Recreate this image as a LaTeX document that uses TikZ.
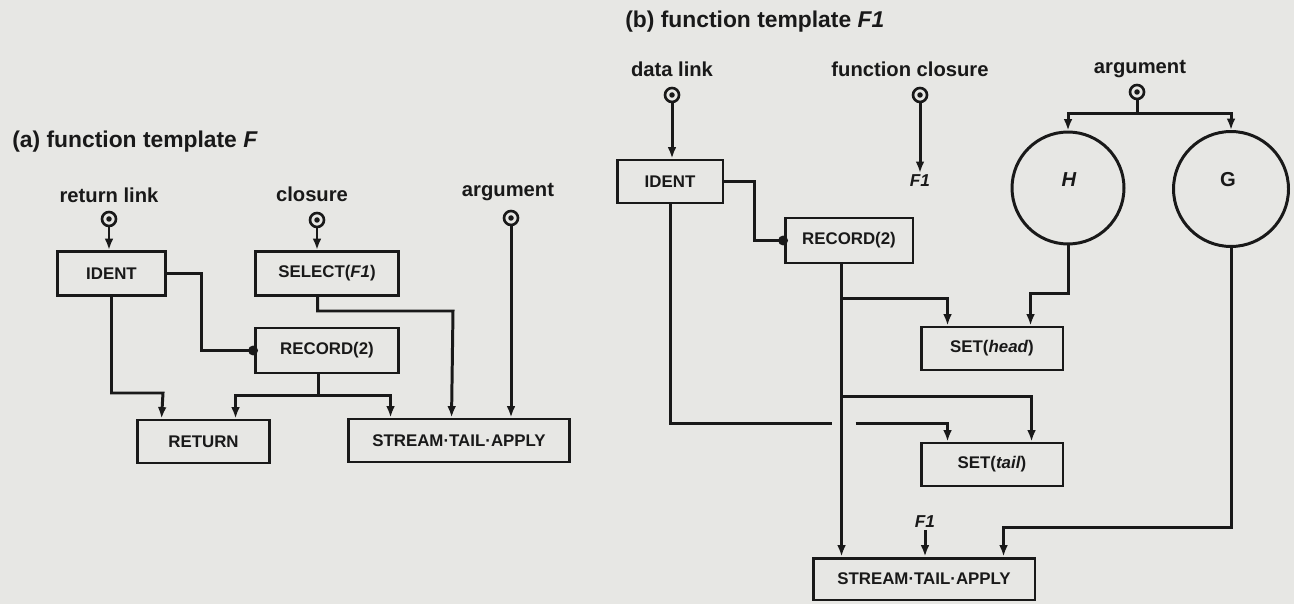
\documentclass[tikz,border=0pt]{standalone}
\usepackage{fontspec}
\setmainfont{Liberation Sans}
\usetikzlibrary{arrows.meta,calc}
\definecolor{paper}{RGB}{231,231,228}
\definecolor{ink}{RGB}{25,25,25}
\newcommand\myboxfont{\fontsize{9.6}{11}\selectfont\bfseries}
\newcommand\mylabfont{\fontsize{11.5}{13}\selectfont\bfseries}
\newcommand\myttlfont{\fontsize{13}{15}\selectfont\bfseries}
\newcommand\myitfont{\fontsize{9.8}{11}\selectfont\bfseries\itshape}
\newcommand\myballfont{\fontsize{11.5}{13}\selectfont\bfseries}
\begin{document}
\begin{tikzpicture}[x=0.02cm,y=-0.02cm,color=ink,
  line/.style={draw=ink,line width=1.7pt},
  arr/.style={line,-{Latex[length=6.5pt,width=5pt]}},
  blob/.style={line,-{Circle[length=5.5pt]},shorten >=-2.5pt},
  box/.style={draw=ink,line width=1.7pt,inner sep=0pt,font=\myboxfont},
  lab/.style={font=\mylabfont,anchor=base,inner sep=0pt},
  ttl/.style={font=\myttlfont,anchor=base west,inner sep=0pt},
  term/.style={circle,draw=ink,line width=1.5pt,minimum size=0.28cm,inner sep=0pt,
    path picture={\fill[ink] (path picture bounding box.center) circle (0.055cm);}},
  ball/.style={circle,draw=ink,line width=1.7pt,inner sep=0pt}]
\fill[paper] (0,0) rectangle (1294,604);
\useasboundingbox (0,0) rectangle (1294,604);

% ---------------- (a) ----------------
\node[ttl] (ta) at (12,148) {(a) function template \textit{F}};
\node[lab] (Lret) at (109,203) {return link};
\node[lab] (Lclo) at (312,202) {closure};
\node[lab] (Larga) at (508,197) {argument};
\node[term] (Tret) at (109,219) {};
\node[term] (Tclo) at (317,220) {};
\node[term] (Targa) at (511,218) {};

\node[box,minimum width=2.18cm,minimum height=0.88cm] (IDa) at (111.5,273.5) {IDENT};
\node[box,minimum width=2.88cm,minimum height=0.88cm] (SEL) at (327,273.5) {SELECT(\textit{F1})};
\node[box,minimum width=2.88cm,minimum height=0.9cm] (RECa) at (327,350.5) {RECORD(2)};
\node[box,minimum width=2.66cm,minimum height=0.86cm] (RET) at (203.5,441.5) {RETURN};
\node[box,minimum width=4.44cm,minimum height=0.86cm] (STAa) at (459,440.5) {STREAM·TAIL·APPLY};

\draw[arr] (Tret) -- (Tret |- IDa.north);
\draw[arr] (Tclo) -- (Tclo |- SEL.north);
\draw[arr] (Targa) -- (Targa |- STAa.north);
\draw[blob] (IDa.east) -- ++(34,0) |- (RECa.west);
\draw[arr] (IDa.south) |- (163,393) -- ($(RET.north west)+(26,0)$);
\draw[line] ($(RECa.south west)+(65,0)$) -- ++(0,21) coordinate (ja);
\draw[arr] (ja) -| ($(RET.north west)+(100,0)$);
\draw[arr] (ja) -| ($(STAa.north west)+(44,0)$);
\draw[arr] ($(SEL.south west)+(64,0)$) |- (453,311) -- ($(STAa.north west)+(105,0)$);

% ---------------- (b) ----------------
\node[ttl] (tb) at (625,28) {(b) function template \textit{F1}};
\node[lab] (Ldl) at (672,77) {data link};
\node[lab] (Lfc) at (910,77) {function closure};
\node[lab] (Largb) at (1140,74) {argument};
\node[term] (Tdl) at (672,95) {};
\node[term] (Tfc) at (920,95) {};
\node[term] (Targb) at (1137,92) {};
\node[font=\myitfont,inner sep=1pt] (F1t) at (920,181) {F1};

\node[box,minimum width=2.12cm,minimum height=0.86cm] (IDb) at (670,181.5) {IDENT};
\node[box,minimum width=2.56cm,minimum height=0.9cm] (RECb) at (849,240.5) {RECORD(2)};
\node[box,minimum width=2.84cm,minimum height=0.86cm] (SETh) at (992,348.5) {SET(\textit{head})};
\node[box,minimum width=2.84cm,minimum height=0.86cm] (SETt) at (992,464.5) {SET(\textit{tail})};
\node[box,minimum width=4.44cm,minimum height=0.84cm] (STAb) at (924,579) {STREAM·TAIL·APPLY};
\node[ball,minimum size=2.24cm] (H) at (1068,188) {};
\node[ball,minimum size=2.3cm] (G) at (1231,189) {};
\node[font=\myballfont\itshape] (Hl) at (1069,180) {H};
\node[font=\myballfont] (Gl) at (1228,180) {G};
\node[font=\myitfont,inner sep=1pt] (F1b) at (925,522) {F1};

\draw[arr] (Tdl) -- (Tdl |- IDb.north);
\draw[arr] (Tfc) -- (F1t.north);
\draw[blob] (IDb.east) -- ++(30,0) |- (RECb.west);
\coordinate (rb) at ($(RECb.south west)+(58,0)$);
\draw[arr] (rb) -- (rb |- STAb.north);
\draw[arr] ($(rb)+(0,34)$) -| ($(SETh.north west)+(28,0)$);
\draw[arr] ($(rb)+(0,132)$) -| ($(SETt.north west)+(112,0)$);
\draw[line] (IDb.south) |- ($(rb)+(-10,159)$);
\draw[arr] ($(rb)+(14,159)$) -| ($(SETt.north west)+(28,0)$);
\draw[line] (Targb.south) -- ++(0,13) coordinate (sp);
\draw[arr] (sp) -| (H.north);
\draw[arr] (sp) -| (G.north);
\draw[arr] (H.south) |- ($(SETh.north west)+(111,-32)$) -- ($(SETh.north west)+(111,0)$);
\draw[arr] (G.south) |- ($(STAb.north west)+(192,-29)$) -- ($(STAb.north west)+(192,0)$);
\draw[arr] (F1b.south) -- (F1b.south |- STAb.north);
\end{tikzpicture}
\end{document}
